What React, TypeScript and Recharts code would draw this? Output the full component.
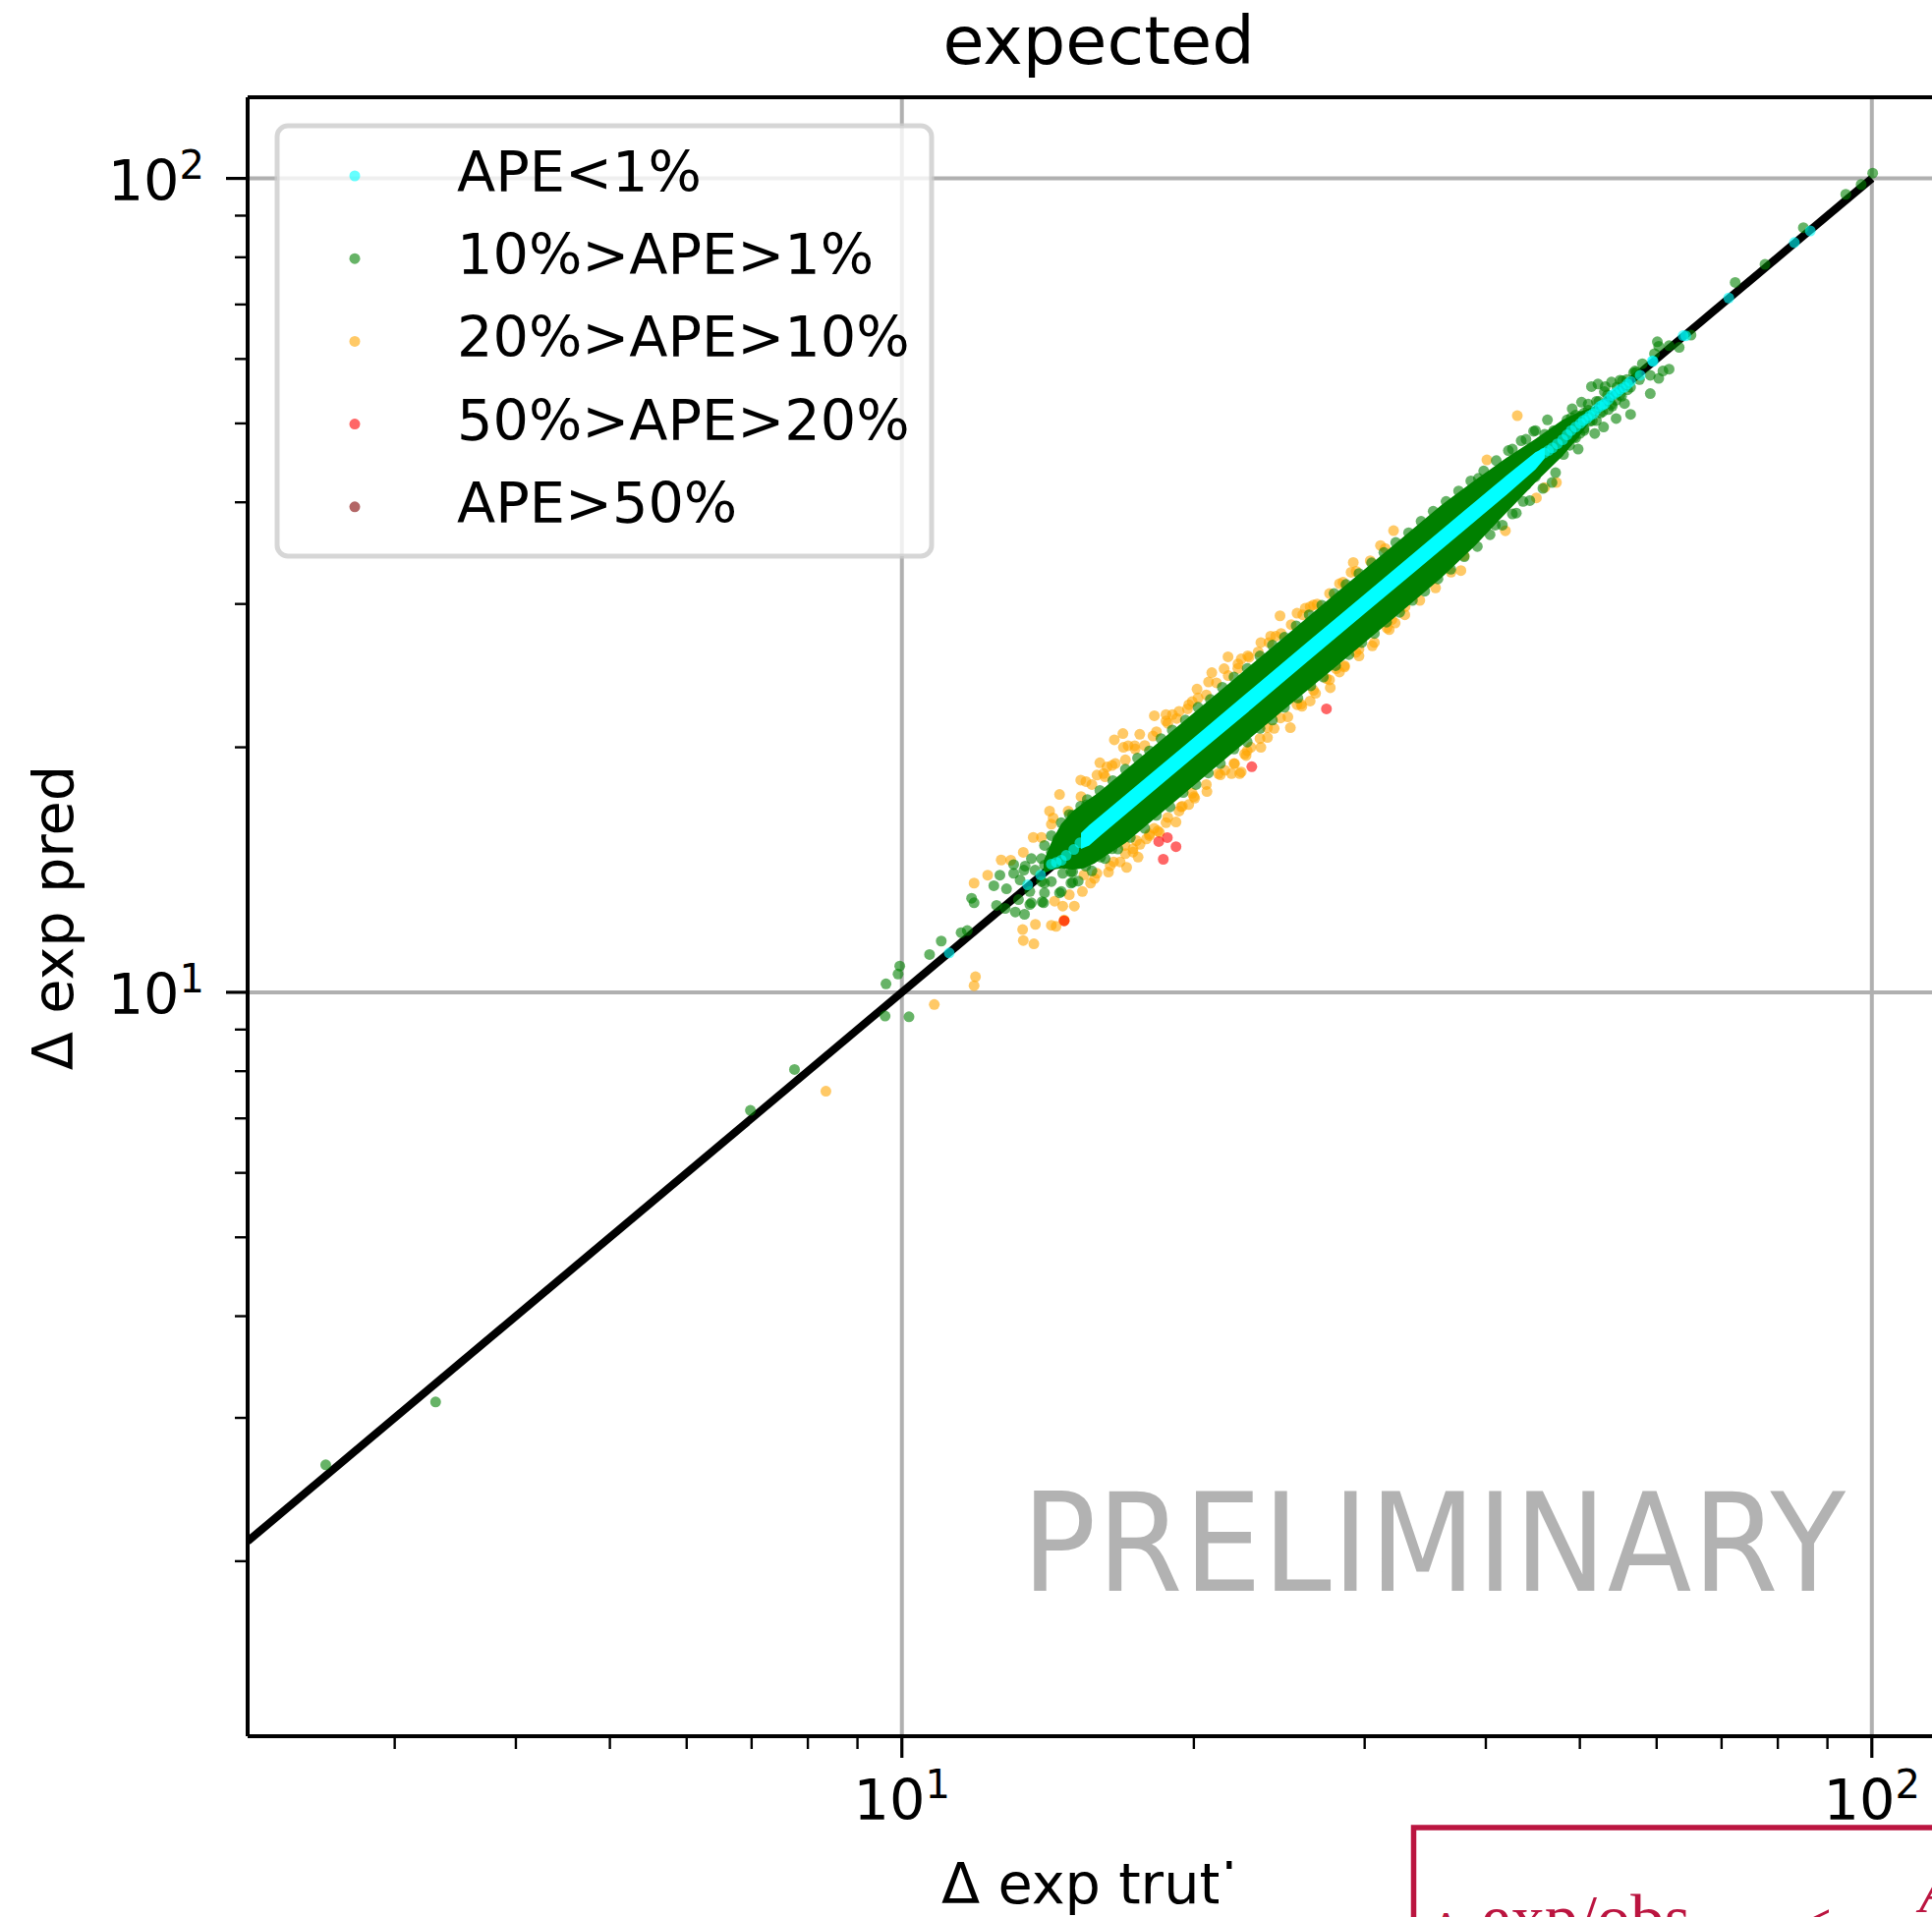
import { Area, ComposedChart, Legend, Line, ReferenceLine, Scatter, XAxis, YAxis } from 'recharts'

// axis limits (right limit sits past the crop)
const xLimits = [2.116, 120.3]
const yLimits = [1.219, 125.8]
const xTicks = [3, 4, 5, 6, 7, 8, 9, 10, 20, 30, 40, 50, 60, 70, 80, 90, 100]
const yTicks = [2, 3, 4, 5, 6, 7, 8, 9, 10, 20, 30, 40, 50, 60, 70, 80, 90, 100]
const majorTicks = [10, 100]

const legendNames = ['APE<1%', '10%>APE>1%', '20%>APE>10%', '50%>APE>20%', 'APE>50%']
const legendColors = ['#00ffff', '#008000', '#ffa500', '#ff0000', '#800000']

const diagonal = [
  [2.116, 2.116],
  [100, 100],
]

// the solid parts of the cloud, where single points can't be told apart: truth, low, high
const greenCore = [
  [14.0, 14.0, 14.5], [14.3, 14.15, 15.4], [14.6, 14.2, 16.1], [15.0, 14.15, 16.7], [15.4, 14.2, 17.1],
  [15.8, 14.4, 17.45], [16, 14.55, 17.65], [17, 15.25, 18.75], [18, 16.15, 19.85], [20, 17.95, 22.05],
  [22, 19.75, 24.25], [25, 22.45, 27.55], [28, 25.1, 30.9], [32, 28.7, 35.3], [36, 32.3, 39.7],
  [39, 35.4, 42.6], [42, 38.85, 45.35], [45, 42.3, 47.85], [48, 45.6, 50.5], [50, 48.3, 51.7],
  [52, 51.5, 52.5],
]
const cyanCore = [
  [15.3, 15.0, 15.7], [15.6, 15.15, 16.05], [16, 15.55, 16.45], [18, 17.5, 18.5], [20, 19.45, 20.55],
  [23, 22.35, 23.65], [26, 25.3, 26.75], [30, 29.2, 30.85], [34, 33.05, 34.95], [38, 36.95, 39.05],
  [42, 40.85, 43.15], [45, 43.9, 46.1], [46, 45.3, 46.7],
]

const orangePoints = [
  [8.35, 7.56], [10.8, 9.66], [11.87, 10.19], [11.91, 10.45], [13.34, 11.58], [13.68, 11.47],
  [13.32, 11.94], [13.73, 12.12], [14.26, 12.09], [14.42, 12.05], [14.7, 12.27], [14.37, 12.94],
  [14.65, 12.76], [15.06, 12.76], [15.35, 13.3], [15.65, 13.62], [16.33, 14.05], [17.05, 14.24],
  [17.52, 14.66], [18.0, 15.65], [19.17, 16.19], [14.88, 13.18], [15.41, 13.94], [15.89, 14.0],
  [16.53, 14.46], [17.31, 14.87], [17.45, 15.36], [16.98, 15.15], [18.0, 15.58], [18.36, 15.79],
  [16.79, 14.46], [17.31, 15.01], [17.87, 15.43], [18.72, 16.16], [18.43, 15.72], [19.31, 16.7],
  [19.46, 16.93], [19.76, 17.01], [19.92, 17.56], [20.04, 17.32], [20.63, 17.65], [21.2, 18.57],
  [21.53, 18.74], [21.87, 18.57], [22.03, 19.09], [22.3, 18.57], [22.38, 18.65], [22.56, 19.63],
  [22.64, 19.54], [22.9, 20], [23.45, 20], [23.82, 20.56], [23.82, 21.14], [24.57, 21.73],
  [25.15, 21.14], [25.55, 22.56], [25.85, 22.46], [26.36, 22.8], [26.57, 23.5], [27.4, 24.29],
  [27.65, 23.67], [28.04, 24.98], [28.26, 24.75], [28.6, 25.2], [29.38, 26.16], [29.6, 26.4],
  [30.55, 26.65], [31.63, 28.04], [32.0, 28.7], [32.25, 28.43], [33.02, 29.77], [36.83, 32.82],
  [37.7, 32.97], [37.99, 34.38], [41.9, 36.9], [45.1, 40.5], [46.0, 41.7], [47.3, 42.3],
  [14.54, 17.5], [14.2, 16.7], [15.48, 18.15], [15.29, 18.23], [15.89, 18.49], [16.0, 19.14],
  [16.14, 18.57], [16.27, 18.92], [16.47, 19.0], [16.56, 20.43], [16.9, 20.79], [16.92, 20.0],
  [17.11, 20.09], [17.38, 20.09], [17.59, 20.75], [18.15, 20.65], [18.21, 21.87], [18.72, 21.54],
  [18.72, 21.94], [19.01, 21.94], [19.31, 22.14], [19.76, 22.56], [19.92, 22.76], [20.15, 23.58],
  [20.71, 24.06], [20.87, 24.7], [21.49, 24.98], [21.69, 25.84], [22.21, 25.32], [22.38, 25.68],
  [22.73, 25.91], [23.45, 26.9], [24.0, 27.39], [24.29, 27.39], [24.54, 29.01], [25.55, 29.23],
  [26.05, 29.64], [26.36, 29.77], [26.57, 29.92], [28.26, 31.77], [29.05, 32.81], [29.2, 33.74],
  [31.15, 35.4], [32.13, 36.91], [40.1, 45.1], [43.1, 51.1], [11.87, 13.62], [12.26, 13.93],
  [12.66, 14.54], [12.95, 14.53], [13.34, 14.86], [13.66, 15.5], [13.93, 15.5], [14.26, 16.09],
  [14.32, 16.38], [14.84, 16.7], [14.7, 12.24],
  // fringe hugging the band, upper side
  [15.3, 17.4], [15.7, 18.0], [16.2, 18.4], [16.6, 19.1], [17.0, 19.3], [17.4, 19.9], [17.8, 20.1],
  [18.3, 20.9], [18.8, 21.4], [19.2, 21.7], [19.7, 22.3], [20.2, 23.0], [20.6, 23.2], [21.1, 24.0],
  [21.7, 24.5], [22.2, 25.0], [22.8, 25.8], [23.3, 26.2], [23.9, 26.9], [24.6, 27.6], [25.2, 28.3],
  [25.9, 29.1], [26.8, 30.0], [27.6, 30.9], [28.5, 31.9], [29.4, 32.9], [30.4, 33.9], [31.5, 35.1],
  // fringe hugging the band, lower side
  [15.8, 13.8], [16.4, 14.3], [17.0, 14.8], [17.6, 15.2], [18.2, 15.9], [18.8, 16.4], [19.4, 16.9],
  [20.0, 17.4], [20.6, 18.0], [21.3, 18.5], [22.0, 19.1], [22.7, 19.8], [23.4, 20.5], [24.2, 21.1],
  [25.0, 21.8], [25.8, 22.6], [26.7, 23.3], [27.6, 24.2], [28.6, 25.1], [29.6, 25.9], [30.7, 26.9],
  [31.8, 27.9], [33, 29.1], [34.2, 30.3], [35.5, 31.4],
]

const greenPoints = [
  [2.547, 2.627], [3.306, 3.138], [6.98, 7.16], [7.75, 8.04], [9.95, 10.77], [9.91, 10.53],
  [9.63, 10.24], [9.61, 9.35], [10.17, 9.33], [10.68, 11.13], [10.98, 11.56], [11.51, 11.84],
  [11.68, 11.91], [11.8, 13.05], [11.87, 12.88], [12.44, 13.52], [12.82, 13.4], [12.62, 13.93],
  [12.52, 12.79], [12.78, 12.68], [13.09, 12.55], [13.38, 12.47], [13.6, 12.88], [13.95, 12.92],
  [13.19, 13.0], [13.04, 14.0], [13.04, 14.35], [13.24, 13.74], [13.4, 14.29], [13.6, 14.6],
  [13.55, 13.3], [14.03, 13.25], [14.03, 13.62], [14.94, 13.62], [15.0, 14.06], [14.54, 13.25],
  [15.47, 14.29], [14.26, 15.58], [14.6, 16.16], [14.88, 16.54], [15.29, 16.93], [15.53, 17.25],
  [14.03, 15.15], [14.48, 15.43], [14.94, 15.79], [13.93, 14.6], [14.26, 14.87], [14.6, 15.15],
  [14.65, 14.0], [14.94, 14.06], [16.03, 14.66], [16.47, 15.01], [15.0, 13.65], [14.6, 13.3],
  [14.0, 12.88], [14.26, 13.68], [13.93, 13.68], [13.55, 12.82], [14.03, 14.33], [13.72, 14.13],
  [13.36, 14.13],
  // upper edge of the band
  [15.0, 16.5], [15.5, 17.0], [16.0, 17.7], [16.5, 18.2], [17.0, 18.8], [17.5, 19.4], [18.0, 19.8],
  [18.5, 20.5], [19.0, 21.0], [19.6, 21.6], [20.2, 22.4], [20.8, 22.9], [21.4, 23.7], [22.0, 24.4],
  [22.7, 25.0], [23.4, 25.9], [24.1, 26.7], [24.8, 27.3], [25.5, 28.2], [26.3, 29.1], [27.1, 29.9],
  [27.9, 30.9], [28.7, 31.7], [29.6, 32.7], [30.5, 33.7], [31.4, 34.7], [32.3, 35.7], [33.3, 36.7],
  [34.3, 37.9], [35.3, 39.0], [36.4, 40.1], [37.5, 41.3], [38.6, 42.5], [39.8, 43.7], [41.0, 45.0],
  [42.2, 46.3], [43.5, 47.6], [45.0, 49.0],
  // lower edge of the band
  [15.2, 13.7], [15.7, 14.1], [16.2, 14.6], [16.7, 15.0], [17.2, 15.5], [17.8, 15.9], [18.3, 16.5],
  [18.9, 16.9], [19.5, 17.6], [20.1, 18.0], [20.7, 18.6], [21.3, 19.1], [22.0, 19.9], [22.7, 20.3],
  [23.4, 21.1], [24.1, 21.6], [24.8, 22.4], [25.6, 23.0], [26.4, 23.8], [27.2, 24.4], [28.0, 25.2],
  [28.9, 26.0], [29.8, 26.9], [30.7, 27.6], [31.6, 28.5], [32.6, 29.3], [33.6, 30.3], [34.6, 31.1],
  [35.7, 32.2], [36.8, 33.1], [38.0, 34.3], [39.2, 35.3], [40.4, 36.5], [41.6, 37.5], [43.0, 38.8],
  [44.4, 40.2], [45.8, 41.6],
  // thin end
  [39.3, 42.8], [40.9, 37.5], [42.6, 38.7], [43.7, 40.1], [42.6, 46.5], [44.8, 48.9], [44.0, 47.8],
  [46.3, 50.5], [49.1, 52.1], [50.2, 53.1], [46.8, 42.3], [47.2, 43.5], [48.1, 45.8], [49.8, 46.5],
  [52.9, 49.5], [51.8, 48.6], [51.4, 55.5], [52.2, 55.9], [53.1, 55.5], [53.9, 56.2], [55.3, 56.4],
  [54.5, 50.7], [55.6, 52.9], [56.4, 51.3], [49.5, 51.2], [50.5, 49.0], [51, 52.8], [52, 50.4],
  [53, 54.7], [53.5, 52.0], [55, 56.5], [54.5, 53.4], [56, 55], [57, 58], [56.8, 57.7], [58.0, 59.2],
  [59.1, 57.3], [59.1, 54.4], [59.7, 60.9], [60.1, 63.0], [60.3, 62.2], [60.3, 56.8], [60.9, 58.0],
  [61.8, 58.3], [61.8, 62.3], [63.3, 62.0], [65.1, 64.2], [72.3, 74.5], [77.6, 78.4], [85, 87],
  [94, 95.6], [97.5, 98.3], [100.2, 101.5],
  [44.5, 46.5], [46, 45], [47, 49], [47.5, 46], [48.5, 50.5], [48.8, 47], [49.5, 48], [50.5, 51.5],
  [51.2, 50.3], [52, 53.2], [52.5, 51.5], [54, 52.5], [55, 54.2], [46, 48.5], [45, 43], [44, 42],
  [47, 48.2], [48, 46.8], [48.5, 49.6], [49.3, 48.1], [50, 51], [50.5, 49.3], [51, 51.9], [51.5, 50.4],
  [52.3, 53.2], [52.8, 51.7], [53.4, 54.2], [53.9, 52.8], [54.6, 55.4], [55.2, 54], [55.9, 56.6],
  [56.4, 55.4], [57.2, 57.8], [57.6, 56.6], [49, 50.8], [50, 48.6],
]

const cyanPoints = [
  [11.19, 11.18], [13.48, 13.55], [13.9, 13.94], [14.26, 14.37], [14.43, 14.44], [14.6, 14.53],
  [14.77, 14.73], [15.04, 14.98], [15.26, 15.26], [45.96, 46.0], [46.84, 46.65], [48.0, 47.75],
  [48.98, 49.0], [50.05, 50.0], [50.84, 50.7], [51.64, 51.4], [52.45, 52.47], [53.06, 52.87],
  [53.9, 54.1], [54.7, 54.7], [55.6, 55.4], [56.4, 56.3], [57.7, 57.3], [59.5, 59.6], [63.9, 64.1],
  [64.3, 64.05], [71.2, 71.3], [83.2, 83.4], [86.4, 86.2],
  [46.4, 46.3], [47.4, 47.2], [48.5, 48.4], [49.5, 49.5], [50.4, 50.4], [51.2, 51.1], [52, 52],
  [52.8, 52.7], [53.5, 53.5], [54.3, 54.4], [55.1, 55.1], [56, 55.9], [59.4, 59.7],
]

const redPoints = [
  [14.7, 12.24], [18.6, 14.57], [19.17, 15.1], [18.78, 15.49], [18.4, 15.32], [22.95, 18.93], [27.4, 22.3],
]

const maroonPoints: number[][] = []

const font = 'DejaVu Sans'
const inkDark = '#000000'
const gridColor = '#b0b0b0'
const slideRed = '#bb1540'

const toRows = (pts: number[][]) => pts.map(([t, p]) => ({ t, p }))
const toBand = (rows: number[][]) => rows.map(([t, lo, hi]) => ({ t, range: [lo, hi] }))

const dot = (color: string) => (props: any) => (
  <circle cx={props.cx} cy={props.cy} r={5.5} fill={color} fillOpacity={0.6} />
)

const power = (v: number) => (v === 10 ? '1' : '2')

function BottomTick({ x, y, payload }: any) {
  const major = majorTicks.includes(payload.value)
  return (
    <g>
      <line x1={x} x2={x} y1={y} y2={y + (major ? 20 : 11)} stroke={inkDark} strokeWidth={major ? 3.2 : 2.4} />
      {major && (
        <text x={x} y={1852} textAnchor="middle" fontFamily={font} fontSize={57.3} fill={inkDark}>
          10
          <tspan dy={-22} fontSize={40}>{power(payload.value)}</tspan>
        </text>
      )}
    </g>
  )
}

function LeftTick({ x, y, payload }: any) {
  const major = majorTicks.includes(payload.value)
  return (
    <g>
      <line x1={x} x2={x - (major ? 20 : 11)} y1={y} y2={y} stroke={inkDark} strokeWidth={major ? 3.2 : 2.4} />
      {major && (
        <text x={208} y={y + 22} textAnchor="end" fontFamily={font} fontSize={57.3} fill={inkDark}>
          10
          <tspan dy={-22} fontSize={40}>{power(payload.value)}</tspan>
        </text>
      )}
    </g>
  )
}

function LegendBox() {
  return (
    <svg width={672} height={444} style={{ display: 'block' }}>
      <rect x={3} y={3} width={666} height={438} rx={11} fill="#ffffff" fillOpacity={0.8} stroke="#cccccc" strokeOpacity={0.8} strokeWidth={5} />
      {legendNames.map((name, i) => (
        <g key={name}>
          <circle cx={82} cy={54 + i * 84.2} r={5.5} fill={legendColors[i]} fillOpacity={0.6} />
          <text x={186} y={70 + i * 84.2} fontFamily={font} fontSize={57.3} fill={inkDark}>
            {name}
          </text>
        </g>
      ))}
    </svg>
  )
}

export default function App() {
  return (
    <div style={{ position: 'absolute', left: 0, top: 0, width: 1966, height: 1951, overflow: 'hidden', background: '#ffffff' }}>
      <ComposedChart width={2000} height={1951} margin={{ top: 99, right: 16, bottom: 0, left: 0 }}>
        <XAxis
          type="number"
          dataKey="t"
          scale="log"
          domain={xLimits}
          allowDataOverflow
          ticks={xTicks}
          interval={0}
          height={184}
          tickSize={0}
          tickLine={false}
          tick={<BottomTick />}
          axisLine={{ stroke: inkDark, strokeWidth: 4 }}
        />
        <YAxis
          type="number"
          dataKey="p"
          scale="log"
          domain={yLimits}
          allowDataOverflow
          ticks={yTicks}
          interval={0}
          width={252}
          tickSize={0}
          tickLine={false}
          tick={<LeftTick />}
          axisLine={{ stroke: inkDark, strokeWidth: 4 }}
        />
        <ReferenceLine x={10} stroke={gridColor} strokeWidth={4} zIndex={50} />
        <ReferenceLine x={100} stroke={gridColor} strokeWidth={4} zIndex={50} />
        <ReferenceLine y={10} stroke={gridColor} strokeWidth={4} zIndex={50} />
        <ReferenceLine y={100} stroke={gridColor} strokeWidth={4} zIndex={50} />
        <ReferenceLine y={yLimits[1]} stroke={inkDark} strokeWidth={4} />
        <Line data={toRows(diagonal)} dataKey="p" stroke={inkDark} strokeWidth={8} dot={false} legendType="none" isAnimationActive={false} zIndex={100} />
        <Scatter name={legendNames[2]} data={toRows(orangePoints)} shape={dot(legendColors[2])} isAnimationActive={false} zIndex={200} />
        <Scatter name={legendNames[1]} data={toRows(greenPoints)} shape={dot(legendColors[1])} isAnimationActive={false} zIndex={300} />
        <Area data={toBand(greenCore)} dataKey="range" stroke="none" fill={legendColors[1]} fillOpacity={1} legendType="none" isAnimationActive={false} zIndex={310} />
        <Area data={toBand(cyanCore)} dataKey="range" stroke="none" fill={legendColors[0]} fillOpacity={1} legendType="none" isAnimationActive={false} zIndex={320} />
        <Scatter name={legendNames[0]} data={toRows(cyanPoints)} shape={dot(legendColors[0])} isAnimationActive={false} zIndex={330} />
        <Scatter name={legendNames[3]} data={toRows(redPoints)} shape={dot(legendColors[3])} isAnimationActive={false} zIndex={340} />
        <Scatter name={legendNames[4]} data={toRows(maroonPoints)} shape={dot(legendColors[4])} isAnimationActive={false} zIndex={350} />
        <Legend
          verticalAlign="middle"
          content={<LegendBox />}
          wrapperStyle={{ left: 279, top: 125, width: 672, height: 444, bottom: 'auto' }}
        />
        <text x={1118} y={65} textAnchor="middle" fontFamily={font} fontSize={68.5} fill={inkDark}>expected</text>
        <text x={958} y={1937} fontFamily={font} fontSize={57.3} fill={inkDark}>Δ exp truth</text>
        <text transform="translate(74,934) rotate(-90)" textAnchor="middle" fontFamily={font} fontSize={57.3} fill={inkDark}>Δ exp pred</text>
        <text x={1040} y={1619} fontFamily={font} fontStretch="condensed" fontSize={139} letterSpacing={1.2} fill="#b2b2b2">PRELIMINARY</text>
        {/* slide overlay that cuts into the bottom of the figure */}
        <rect x={1240} y={1902} width={200} height={60} fill="#ffffff" />
        <rect x={1438.5} y={1860} width={700} height={300} fill="#ffffff" stroke={slideRed} strokeWidth={5.5} />
        <text x={1458} y={1975} fontFamily="Liberation Serif" fontSize={42} fill={slideRed}>Δ</text>
        <text x={1507} y={1975} fontFamily="Liberation Serif" fontSize={68.5} fill={slideRed}>exp/obs</text>
        <text x={1827} y={1981} fontFamily="Liberation Serif" fontSize={66} fill={slideRed}>&lt;</text>
        <text x={1953} y={1946} fontFamily="Liberation Serif" fontStyle="italic" fontSize={60} fill={slideRed}>A</text>
      </ComposedChart>
    </div>
  )
}
